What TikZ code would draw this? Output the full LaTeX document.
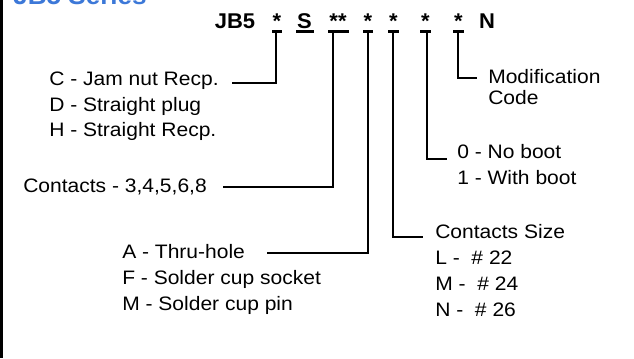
\documentclass[tikz,border=0pt]{standalone}
\usepackage{fontspec}
\setmainfont{Liberation Sans}[FakeStretch=1.08]
\newfontfamily\titlefont{Liberation Sans}[FakeStretch=1.03]
\definecolor{titleblue}{RGB}{60,120,216}
\begin{document}
\begin{tikzpicture}[x=0.75pt,y=-0.75pt,
  lbl/.style={anchor=base west,inner sep=0,font=\fontsize{14.6}{16}\selectfont},
  code/.style={anchor=base,inner sep=0,font=\titlefont\bfseries\fontsize{16}{18}\selectfont},
  conn/.style={line width=1.2pt},
  bar/.style={line width=2.2pt}]
\useasboundingbox (0,0) rectangle (634,358);
\clip (0,0) rectangle (634,358);
\fill[white] (0,0) rectangle (634,358);
\fill[black] (0,0) rectangle (2.5,358);
\node[anchor=base west,inner sep=0,text=titleblue,font=\titlefont\bfseries\fontsize{19}{20}\selectfont] (series) at (13,4) {JB5 Series};
% part code
\node[code] (jb) at (235,28) {JB5};
\node[code] (k1) at (277,28) {*};
\node[code] (k2) at (304.5,28) {S};
\node[code] (k3) at (338,28) {**};
\node[code] (k4) at (368,28) {*};
\node[code] (k5) at (393.5,28) {*};
\node[code] (k6) at (425.5,28) {*};
\node[code] (k7) at (458.5,28) {*};
\node[code] (kn) at (487,28) {N};
% underbars
\draw[bar] (272,31.5) -- (282,31.5);
\draw[bar] (296,31.5) -- (314,31.5);
\draw[bar] (328,31.5) -- (349,31.5);
\draw[bar] (363,31.5) -- (373,31.5);
\draw[bar] (388,31.5) -- (399,31.5);
\draw[bar] (420,31.5) -- (431,31.5);
\draw[bar] (453,31.5) -- (464,31.5);
% labels
\node[lbl] (c1) at (49,85.5) {C - Jam nut Recp.};
\node[lbl] (c2) at (49,111) {D - Straight plug};
\node[lbl] (c3) at (49,136.5) {H - Straight Recp.};
\node[lbl] (ct) at (23,192) {Contacts - 3,4,5,6,8};
\node[lbl] (a1) at (122,258) {A - Thru-hole};
\node[lbl] (a2) at (122,284.5) {F - Solder cup socket};
\node[lbl] (a3) at (122,310.5) {M - Solder cup pin};
\node[lbl] (z0) at (435,238) {Contacts Size};
\node[lbl] (z1) at (435,264) {L -~ \# 22};
\node[lbl] (z2) at (435,290.5) {M -~ \# 24};
\node[lbl] (z3) at (435,316) {N -~ \# 26};
\node[lbl] (b0) at (457,158) {0 - No boot};
\node[lbl] (b1) at (457,184.5) {1 - With boot};
\node[lbl] (m1) at (488,83) {Modification};
\node[lbl] (m2) at (488,104) {Code};
% connectors
\coordinate (t1) at (276,31.5);   \coordinate (e1) at (232,83);
\coordinate (t3) at (333,31.5);   \coordinate (e3) at (223,187);
\coordinate (t4) at (368,31.5);   \coordinate (e4) at (267,253);
\coordinate (t5) at (393,31.5);   \coordinate (e5) at (423,237);
\coordinate (t6) at (427,31.5);   \coordinate (e6) at (447,159);
\coordinate (t7) at (458,31.5);   \coordinate (e7) at (477,78);
\draw[conn] (t1) |- (e1);
\draw[conn] (t3) |- (e3);
\draw[conn] (t4) |- (e4);
\draw[conn] (t5) |- (e5);
\draw[conn] (t6) |- (e6);
\draw[conn] (t7) |- (e7);
\end{tikzpicture}
\end{document}
